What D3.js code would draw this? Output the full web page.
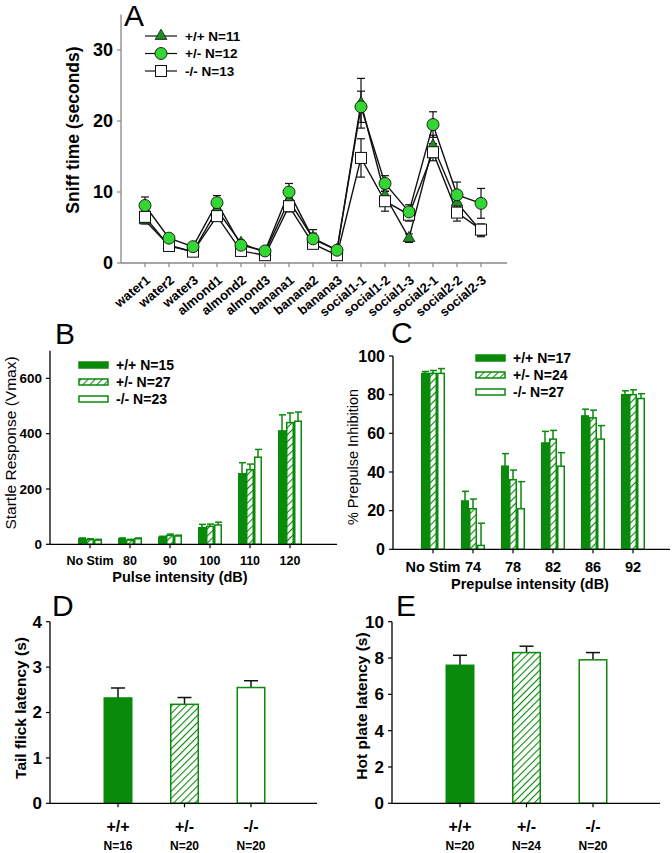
<!DOCTYPE html>
<html><head><meta charset="utf-8">
<script src="https://cdn.jsdelivr.net/npm/d3@7"></script>
<style>
body{margin:0;background:#fff;}
svg{display:block;font-family:Arial,"Liberation Sans",sans-serif;}
</style></head><body>
<svg id="c" width="672" height="853"></svg>
<script>
// ---------- DATA ----------
// Panel A
const catsA = ["water1","water2","water3","almond1","almond2","almond3","banana1","banana2","banana3","social1-1","social1-2","social1-3","social2-1","social2-2","social2-3"];
const aWT   = [6.0,2.5,1.6,7.5,2.8,1.5,8.8,3.5,1.8,22.5,9.5,3.5,16.5,8.5,4.5];
const aWTe  = [0.5,0.4,0.3,0.6,0.4,0.3,0.8,1.2,0.4,3.5,1.0,0.6,1.5,1.3,0.8];
const aHet  = [8.1,3.5,2.3,8.5,2.5,1.7,10.0,3.4,1.8,22.0,11.2,7.2,19.5,9.6,8.4];
const aHete = [1.2,0.5,0.3,1.0,0.3,0.2,1.2,0.8,0.3,2.2,1.1,1.0,1.8,1.8,2.1];
const aKO   = [6.5,2.4,1.6,6.6,1.7,1.1,8.0,2.7,1.1,14.8,8.7,6.8,15.6,7.1,4.7];
const aKOe  = [0.8,0.4,0.3,0.7,0.3,0.2,0.8,0.5,0.3,2.7,1.4,0.9,1.2,1.2,0.8];
const ticksA = [0,10,20,30];
const legendA = ["+/+ N=11","+/-  N=12","-/-  N=13"];
// Panel B
const catsB = ["No Stim","80","90","100","110","120"];
const bWT  = [20,20,25,60,255,410];
const bWTe = [3,3,4,12,40,58];
const bHet = [17,15,32,65,270,440];
const bHete= [3,3,5,8,20,35];
const bKO  = [15,20,30,70,315,445];
const bKOe = [3,3,3,10,28,33];
const ticksB = [0,200,400,600];
const legendB = ["+/+ N=15","+/-  N=27","-/-   N=23"];
// Panel C
const catsC = ["No Stim","74","78","82","86","92"];
const cWT  = [91,25,43,55,69,80];
const cWTe = [1,5,6.5,6,3.5,2];
const cHet = [91,21,36,57,68,80];
const cHete= [1.5,5,5,4.5,4,2.5];
const cKO  = [91,2,21,43,57,78];
const cKOe = [2.5,11.5,14,7,7,2.5];
const ticksC = [0,20,40,60,80,100];
const legendC = ["+/+  N=17","+/-  N=24","-/-   N=27"];
// Panel D
const genos = ["+/+","+/-","-/-"];
const dN = ["N=16","N=20","N=20"];
const dVal = [2.32,2.18,2.55];
const dErr = [0.22,0.15,0.15];
const ticksD = [0,1,2,3,4];
// Panel E
const eN = ["N=20","N=24","N=20"];
const eVal = [7.6,8.3,7.9];
const eErr = [0.55,0.35,0.4];
const ticksE = [0,2,4,6,8,10];

// ---------- STYLE ----------
const G = "#0a8a0a", LIGHT="#33d633", TRI="#1f8f1f";
const svg = d3.select("#c");
const defs = svg.append("defs");
const pat = defs.append("pattern").attr("id","hatch").attr("patternUnits","userSpaceOnUse")
  .attr("width",5).attr("height",5).attr("patternTransform","rotate(45)");
pat.append("rect").attr("width",5).attr("height",5).attr("fill","#fff");
pat.append("line").attr("x1",0).attr("y1",0).attr("x2",0).attr("y2",5).attr("stroke",G).attr("stroke-width",2.2);
const fills = [G,"url(#hatch)","#fff"];

function letter(t,x,y){svg.append("text").attr("x",x).attr("y",y).attr("font-size",30).text(t);}

function yAxis(g, y, ticks, x0, fs, col){
  g.append("line").attr("x1",x0).attr("x2",x0).attr("y1",y.range()[0]).attr("y2",y.range()[1]).attr("stroke",col).attr("stroke-width",1.3);
  ticks.forEach(t=>{
    g.append("line").attr("x1",x0-4).attr("x2",x0).attr("y1",y(t)).attr("y2",y(t)).attr("stroke",col).attr("stroke-width",1.2);
    g.append("text").attr("x",x0-8).attr("y",y(t)).attr("dy","0.35em").attr("text-anchor","end")
      .attr("font-size",fs).attr("font-weight","bold").text(t);
  });
}
function xAxisLine(g, y0, x0, x1, col, tickXs){
  g.append("line").attr("x1",x0).attr("x2",x1).attr("y1",y0).attr("y2",y0).attr("stroke",col).attr("stroke-width",1.3);
  tickXs.forEach(x=>g.append("line").attr("x1",x).attr("x2",x).attr("y1",y0).attr("y2",y0+4).attr("stroke",col).attr("stroke-width",1.2));
}
function yLabel(t,x,y,fs,bold){
  svg.append("text").attr("transform",`translate(${x},${y}) rotate(-90)`).attr("text-anchor","middle")
   .attr("font-size",fs).attr("font-weight",bold?"bold":"normal").text(t);
}

// ---------- PANEL A ----------
{
  const g = svg.append("g");
  const x = d3.scalePoint().domain(catsA).range([145,481]);
  const y = d3.scaleLinear().domain([0,35]).range([263,14.5]);
  yAxis(g,y,ticksA,121,18,"#888");
  xAxisLine(g,263,121,507,"#888",catsA.map(c=>x(c)));
  catsA.forEach(c=>{
    g.append("text").attr("transform",`translate(${x(c)+3},${278}) rotate(-40)`).attr("text-anchor","end")
     .attr("dy","0.35em").attr("font-size",13).attr("font-weight","bold").text(c);
  });
  yLabel("Sniff time (seconds)",79,130,17.5,true);
  letter("A",124,26);
  const series = [
    {v:aWT,e:aWTe,type:"tri"},
    {v:aKO,e:aKOe,type:"sq"},
    {v:aHet,e:aHete,type:"circ"}
  ];
  const line = d3.line().x((d,i)=>x(catsA[i])).y(d=>y(d));
  series.forEach(s=>{
    g.append("path").attr("d",line(s.v)).attr("fill","none").attr("stroke","#111").attr("stroke-width",1.4);
  });
  series.forEach(s=>{
    s.v.forEach((v,i)=>{
      const cx=x(catsA[i]);
      g.append("line").attr("x1",cx).attr("x2",cx).attr("y1",y(v-s.e[i])).attr("y2",y(v+s.e[i])).attr("stroke","#111").attr("stroke-width",1.2);
      [v-s.e[i],v+s.e[i]].forEach(t=>g.append("line").attr("x1",cx-4).attr("x2",cx+4).attr("y1",y(t)).attr("y2",y(t)).attr("stroke","#111").attr("stroke-width",1.2));
    });
  });
  function marker(gg,type,cx,cy){
    if(type==="tri") gg.append("path").attr("d",d3.symbol(d3.symbolTriangle,60)()).attr("transform",`translate(${cx},${cy})`).attr("fill",TRI).attr("stroke","#111").attr("stroke-width",0.8);
    else if(type==="sq") gg.append("rect").attr("x",cx-5.5).attr("y",cy-5.5).attr("width",11).attr("height",11).attr("fill","#fff").attr("stroke","#111").attr("stroke-width",1);
    else gg.append("circle").attr("cx",cx).attr("cy",cy).attr("r",6).attr("fill",LIGHT).attr("stroke","#111").attr("stroke-width",0.9);
  }
  series.forEach(s=>s.v.forEach((v,i)=>marker(g,s.type,x(catsA[i]),y(v))));
  // legend
  const lt=["tri","circ","sq"];
  legendA.forEach((t,i)=>{
    const yy=36+i*17.5;
    g.append("line").attr("x1",145).attr("x2",177).attr("y1",yy).attr("y2",yy).attr("stroke","#111").attr("stroke-width",1.2);
    marker(g,lt[i],161,yy);
    g.append("text").attr("x",185).attr("y",yy).attr("dy","0.35em").attr("font-size",13.5).attr("font-weight","bold").text(t);
  });
}

// ---------- grouped bar panels ----------
function grouped(cfg){
  const g = svg.append("g");
  const x = d3.scalePoint().domain(cfg.cats).range(cfg.xr);
  const y = d3.scaleLinear().domain(cfg.yd).range(cfg.yr);
  const data=[[cfg.wt,cfg.wte],[cfg.het,cfg.hete],[cfg.ko,cfg.koe]];
  const bw=8;
  data.forEach((s,k)=>{
    s[0].forEach((v,i)=>{
      const bx=x(cfg.cats[i])-12+k*bw;
      const cx=bx+bw/2;
      g.append("line").attr("x1",cx).attr("x2",cx).attr("y1",y(v)).attr("y2",y(v+s[1][i])).attr("stroke",G).attr("stroke-width",1.5);
      g.append("line").attr("x1",cx-3).attr("x2",cx+4).attr("y1",y(v+s[1][i])).attr("y2",y(v+s[1][i])).attr("stroke",G).attr("stroke-width",1.5);
      g.append("rect").attr("x",bx+0.75).attr("y",y(v)).attr("width",bw-1.5).attr("height",y(0)-y(v))
        .attr("fill",fills[k]).attr("stroke",G).attr("stroke-width",1.5);
    });
  });
  yAxis(g,y,cfg.ticks,cfg.ax,cfg.tfs,"#000");
  xAxisLine(g,y(0),cfg.ax,cfg.xend,"#000",cfg.cats.map(c=>x(c)));
  cfg.cats.forEach(c=>g.append("text").attr("x",x(c)).attr("y",cfg.xly).attr("text-anchor","middle")
     .attr("font-size",cfg.xfs).attr("font-weight","bold").text(c));
  g.append("text").attr("x",cfg.xtx).attr("y",cfg.xty).attr("text-anchor","middle").attr("font-size",14.5).attr("font-weight","bold").text(cfg.xtitle);
  cfg.legend.forEach((t,i)=>{
    const yy=cfg.ly+i*17;
    g.append("rect").attr("x",cfg.lx).attr("y",yy-3).attr("width",29).attr("height",6).attr("fill",fills[i]).attr("stroke",G).attr("stroke-width",1.5);
    g.append("text").attr("x",cfg.lx+37).attr("y",yy).attr("dy","0.35em").attr("font-size",14).attr("font-weight","bold").text(t);
  });
}
grouped({cats:catsB,xr:[90,290],yd:[0,700],yr:[544.3,350.7],wt:bWT,wte:bWTe,het:bHet,hete:bHete,ko:bKO,koe:bKOe,
  ticks:ticksB,ax:50,tfs:13.5,xend:337,xly:565,xfs:12.5,xtx:180,xty:582,xtitle:"Pulse intensity (dB)",legend:legendB,lx:79,ly:365});
yLabel("Startle Response (Vmax)",16,443,15.5,false);
letter("B",55,344);
grouped({cats:catsC,xr:[433,633],yd:[0,100],yr:[549.3,356],wt:cWT,wte:cWTe,het:cHet,hete:cHete,ko:cKO,koe:cKOe,
  ticks:ticksC,ax:393,tfs:16,xend:670,xly:572,xfs:14.5,xtx:530,xty:589,xtitle:"Prepulse intensity (dB)",legend:legendC,lx:476,ly:358});
yLabel("% Prepulse Inhibition",358,457,14.5,false);
letter("C",391,343);

// ---------- single bar panels ----------
function single(cfg){
  const g = svg.append("g");
  const x = d3.scalePoint().domain(genos).range(cfg.xr);
  const y = d3.scaleLinear().domain(cfg.yd).range([803.3,621.7]);
  const bw=29;
  cfg.v.forEach((v,i)=>{
    const cx=x(genos[i]);
    g.append("line").attr("x1",cx).attr("x2",cx).attr("y1",y(v)).attr("y2",y(v+cfg.e[i])).attr("stroke","#111").attr("stroke-width",1.5);
    g.append("line").attr("x1",cx-7).attr("x2",cx+7).attr("y1",y(v+cfg.e[i])).attr("y2",y(v+cfg.e[i])).attr("stroke","#111").attr("stroke-width",1.5);
    g.append("rect").attr("x",cx-bw/2+0.75).attr("y",y(v)).attr("width",bw-1.5).attr("height",y(0)-y(v))
      .attr("fill",fills[i]).attr("stroke",G).attr("stroke-width",1.5);
  });
  yAxis(g,y,cfg.ticks,cfg.ax,17,"#000");
  xAxisLine(g,y(0),cfg.ax,cfg.xend,"#000",genos.map(c=>x(c)));
  genos.forEach((c,i)=>{
    g.append("text").attr("x",x(c)).attr("y",832).attr("text-anchor","middle").attr("font-size",16).attr("font-weight","bold").text(c);
    g.append("text").attr("x",x(c)).attr("y",850).attr("text-anchor","middle").attr("font-size",12).attr("font-weight","bold").text(cfg.n[i]);
  });
}
single({xr:[118,251],yd:[0,4],v:dVal,e:dErr,ticks:ticksD,ax:50,xend:317,n:dN});
yLabel("Tail flick latency (s)",26,708,15.5,true);
letter("D",52,616);
single({xr:[460,593],yd:[0,10],v:eVal,e:eErr,ticks:ticksE,ax:392,xend:660,n:eN});
yLabel("Hot plate latency (s)",367,706,15.5,true);
letter("E",396,616);
</script>
</body></html>
